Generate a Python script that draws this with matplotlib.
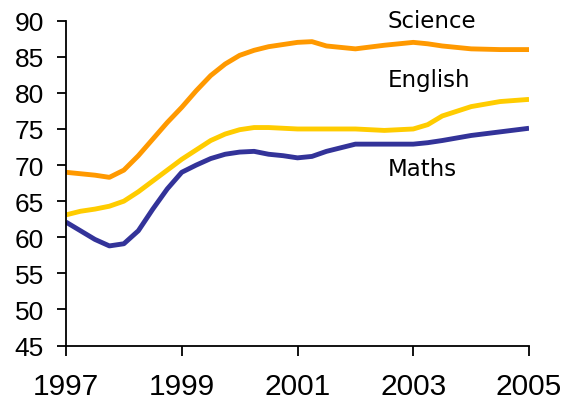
import matplotlib
matplotlib.use("Agg")
import matplotlib.pyplot as plt

years = [1997, 1997.25, 1997.5, 1997.75, 1998, 1998.25, 1998.5, 1998.75,
         1999, 1999.25, 1999.5, 1999.75, 2000, 2000.25, 2000.5, 2000.75,
         2001, 2001.25, 2001.5, 2001.75, 2002, 2002.5, 2003, 2003.25,
         2003.5, 2004, 2004.5, 2005]

science = [69.0, 68.8, 68.6, 68.3, 69.3, 71.3, 73.6, 75.9,
           78.0, 80.3, 82.4, 84.0, 85.2, 85.9, 86.4, 86.7,
           87.0, 87.1, 86.5, 86.3, 86.1, 86.6, 87.0, 86.8,
           86.5, 86.1, 86.0, 86.0]
english = [63.1, 63.6, 63.9, 64.3, 65.0, 66.3, 67.8, 69.3,
           70.8, 72.1, 73.4, 74.3, 74.9, 75.2, 75.2, 75.1,
           75.0, 75.0, 75.0, 75.0, 75.0, 74.8, 75.0, 75.6,
           76.8, 78.1, 78.8, 79.1]
maths = [62.1, 60.9, 59.7, 58.8, 59.1, 60.9, 63.9, 66.7,
         69.0, 70.0, 70.9, 71.5, 71.8, 71.9, 71.5, 71.3,
         71.0, 71.2, 71.9, 72.4, 72.9, 72.9, 72.9, 73.1,
         73.4, 74.1, 74.6, 75.1]

series_names = ["Science", "English", "Maths"]
label_y = [89.1, 80.9, 68.6]

plt.rcParams["font.family"] = ["Liberation Sans", "DejaVu Sans"]

fig = plt.figure(figsize=(5.64, 4.02), dpi=100)
ax = fig.add_axes([0.117, 0.138, 0.821, 0.808])

ax.plot(years, science, color="#FF9900", lw=3.5, solid_capstyle="butt")
ax.plot(years, english, color="#FFCC00", lw=3.5, solid_capstyle="butt")
ax.plot(years, maths, color="#333399", lw=3.5, solid_capstyle="butt")

for name, yv in zip(series_names, label_y):
    ax.text(2002.56, yv, name, fontsize=16.5, va="baseline", ha="left",
            family="DejaVu Sans")

ax.set_xlim(1997, 2005)
ax.set_ylim(45, 90)
ax.set_xticks([1997, 1999, 2001, 2003, 2005])
ax.set_yticks(range(45, 91, 5))

for side in ["top", "right"]:
    ax.spines[side].set_visible(False)
for side in ["left", "bottom"]:
    ax.spines[side].set_linewidth(1.3)

ax.tick_params(axis="y", direction="out", length=6.5, width=1.3, labelsize=19, pad=9.5)
ax.tick_params(axis="x", direction="out", length=7, width=1.3, labelsize=21.5, pad=12)

fig.savefig("out.png", dpi=100)
